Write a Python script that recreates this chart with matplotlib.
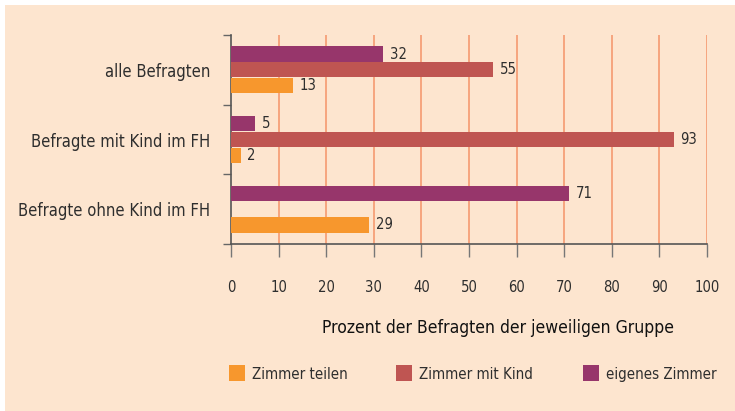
import matplotlib
matplotlib.use("Agg")
import matplotlib.pyplot as plt
from matplotlib.patches import Rectangle
from matplotlib import font_manager as fm
from matplotlib.textpath import TextPath
import numpy as np

groups = ["alle Befragten", "Befragte mit Kind im FH", "Befragte ohne Kind im FH"]
series = ["Zimmer teilen", "Zimmer mit Kind", "eigenes Zimmer"]
teilen = [13, 2, 29]
mit_kind = [55, 93, 0]
eigenes = [32, 5, 71]
colors = ["#f7972d", "#bf5552", "#97366b"]

BG = "#fde5cf"
GRID = "#f6a57e"
TXT = "#2e2e2e"
DPI = 100

# pick a narrow face if one is installed, else plain DejaVu
fp = fm.FontProperties(family="DejaVu Sans")
for f in fm.fontManager.ttflist:
    n = f.name + " " + f.fname
    if (("Narrow" in n or "Condensed" in n or f.stretch in ("condensed", "semi-condensed"))
            and f.style == "normal" and f.weight in (400, "normal", "regular")):
        fp = fm.FontProperties(fname=f.fname)
        break


def fit(s, px):
    # font size (pt) so that text s is px pixels wide
    w = TextPath((0, 0), s, size=1, prop=fp).get_extents().width
    return px * 72 / (DPI * w)


fig = plt.figure(figsize=(7.35, 4.11), dpi=DPI)
fig.patch.set_facecolor("white")
fig.patches.append(Rectangle((5 / 735, 0), 1, 1 - 5 / 411, transform=fig.transFigure,
                             facecolor=BG, edgecolor="none", zorder=-10))

ax = fig.add_axes([231 / 735, 1 - 244 / 411, 476 / 735, 209 / 411])
ax.set_facecolor(BG)

y = np.arange(len(groups))
h = 0.22
offs = {"eigenes Zimmer": -0.225, "Zimmer mit Kind": 0.0, "Zimmer teilen": 0.225}
vals = {"Zimmer teilen": teilen, "Zimmer mit Kind": mit_kind, "eigenes Zimmer": eigenes}
num_fs = min(fit("93", 15), 13)
for name, col in zip(series, colors):
    ax.barh(y + offs[name], vals[name], height=h, color=col, zorder=3, label=name)
    for yi, v in zip(y, vals[name]):
        if v > 0:
            ax.text(v + 1.4, yi + offs[name], f"{v}", va="center", ha="left",
                    fontsize=num_fs, color=TXT, zorder=4, fontproperties=fp)

ax.set_xlim(0, 100)
ax.set_ylim(2.5, -0.5)
ax.set_xticks(range(0, 101, 10))
ax.set_xticklabels([str(v) for v in range(0, 101, 10)], fontproperties=fp,
                   fontsize=min(fit("100", 23), 14))
ax.set_yticks(y)
ax.set_yticklabels(groups, fontproperties=fp,
                   fontsize=min(fit("Befragte ohne Kind im FH", 188), 15))
ax.set_yticks([-0.5, 0.5, 1.5, 2.5], minor=True)
ax.tick_params(axis="y", which="major", length=0, pad=15, labelcolor=TXT)
ax.tick_params(axis="y", which="minor", length=6, width=1, color="#666666")
ax.tick_params(axis="x", length=9, width=1, color="#777777", direction="out",
               pad=17, labelcolor=TXT)
for xv in range(10, 101, 10):
    ax.axvline(xv, color=GRID, lw=1.4, zorder=1)
for s in ["top", "right"]:
    ax.spines[s].set_visible(False)
for s in ["left", "bottom"]:
    ax.spines[s].set_color("#555555")
    ax.spines[s].set_linewidth(1.2)

xl = "Prozent der Befragten der jeweiligen Gruppe"
fig.text(498 / 735, 1 - 328 / 411, xl, ha="center", va="center",
         fontproperties=fp, fontsize=min(fit(xl, 351), 15), color="#111111")

# legend: square + label, left edges
leg_fs = min(fit("eigenes Zimmer", 110), 14)
for name, col, x0 in zip(series, colors, [229, 396, 583]):
    fig.patches.append(Rectangle((x0 / 735, 1 - 381 / 411), 16 / 735, 16 / 411,
                                 transform=fig.transFigure, facecolor=col,
                                 edgecolor="none"))
    fig.text((x0 + 23) / 735, 1 - 374 / 411, name, ha="left", va="center",
             fontproperties=fp, fontsize=leg_fs, color=TXT)

fig.savefig("out.png", dpi=DPI, facecolor=fig.get_facecolor())
